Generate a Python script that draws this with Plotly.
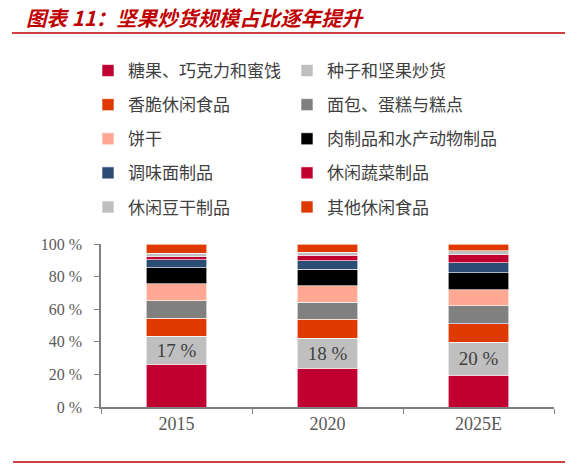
import plotly.graph_objects as go

years = ["2015", "2020", "2025E"]

names = [
    "糖果、巧克力和蜜饯", "种子和坚果炒货",
    "香脆休闲食品", "面包、蛋糕与糕点",
    "饼干", "肉制品和水产动物制品",
    "调味面制品", "休闲蔬菜制品",
    "休闲豆干制品", "其他休闲食品",
]
colors = [
    "#C00030", "#BFBFBF",
    "#DE3A00", "#808080",
    "#FFA894", "#000000",
    "#2C4C75", "#C00030",
    "#BFBFBF", "#DE3A00",
]

# shares (%), one list per category
candy = [26.2, 23.8, 19.5]
nuts = [17.2, 18.4, 20.1]
crispy = [11.0, 11.5, 11.5]
bakery = [10.9, 10.7, 10.9]
biscuit = [10.4, 10.0, 9.8]
meat = [9.6, 10.0, 10.5]
noodle = [4.9, 5.3, 6.1]
veggie = [2.0, 3.3, 4.9]
tofu = [2.2, 2.0, 2.5]
other = [5.6, 5.0, 4.2]

series = [candy, nuts, crispy, bakery, biscuit, meat, noodle, veggie, tofu, other]

W, H = 584, 471
L, R, T, B = 101, 30, 244, 64
pw, ph = W - L - R, H - T - B


def px(x):
    return (x - L) / pw


def py(y):
    return (H - B - y) / ph


fig = go.Figure()
for i, (name, vals) in enumerate(zip(names, series)):
    show_text = name == "种子和坚果炒货"
    fig.add_trace(go.Bar(
        x=years,
        y=vals,
        name=name,
        marker=dict(color=colors[i], line=dict(color="white", width=0.6)),
        text=[f"{v:.0f} %" for v in vals] if show_text else None,
        textposition="inside" if show_text else "none",
        insidetextanchor="middle",
        textfont=dict(family="Liberation Serif", size=19, color="#404040"),
        legend="legend" if i % 2 == 0 else "legend2",
        legendgroup=name,
        hoverinfo="skip",
    ))

legend_common = dict(
    xref="container", yref="container", yanchor="top", xanchor="left",
    traceorder="grouped", tracegroupgap=9,
    font=dict(family="Noto Sans CJK SC", size=17, color="#404040"),
    bgcolor="rgba(0,0,0,0)",
)

fig.update_layout(
    width=W, height=H,
    margin=dict(l=L, r=R, t=T, b=B, autoexpand=False),
    barmode="stack",
    bargap=0.6,
    plot_bgcolor="white",
    paper_bgcolor="white",
    showlegend=True,
    legend=dict(x=88 / W, y=1 - 53 / H, **legend_common),
    legend2=dict(x=287 / W, y=1 - 53 / H, **legend_common),
    xaxis=dict(
        showline=True, linecolor="#808080", linewidth=1.5,
        ticks="outside", tickson="boundaries", ticklen=5, tickcolor="#808080",
        tickfont=dict(family="Liberation Serif", size=18, color="#595959"),
        showgrid=False, automargin=False, tickangle=0,
    ),
    yaxis=dict(
        range=[0, 100], dtick=20, ticksuffix=" %",
        showline=True, linecolor="#808080", linewidth=1.5,
        ticks="outside", ticklen=5, tickcolor="#808080",
        ticklabelstandoff=9,
        tickfont=dict(family="Liberation Serif", size=16, color="#595959"),
        showgrid=False, zeroline=False, automargin=False,
    ),
    annotations=[dict(
        text="图表 11：坚果炒货规模占比逐年提升",
        xref="paper", yref="paper", x=px(24), y=py(17),
        xanchor="left", yanchor="middle", showarrow=False,
        font=dict(family="Noto Sans CJK SC", size=20.5, color="#C00000",
                  weight="bold", style="italic"),
    )],
    shapes=[
        dict(type="line", xref="paper", yref="paper",
             x0=px(12), x1=px(565), y0=py(33), y1=py(33),
             line=dict(color="#C00000", width=1.5)),
        dict(type="line", xref="paper", yref="paper",
             x0=px(13), x1=px(565), y0=py(462), y1=py(462),
             line=dict(color="#C00000", width=1.5)),
    ],
)

fig.write_html("out.html", config={"displayModeBar": False},
               post_script="document.body.style.margin='0';")
